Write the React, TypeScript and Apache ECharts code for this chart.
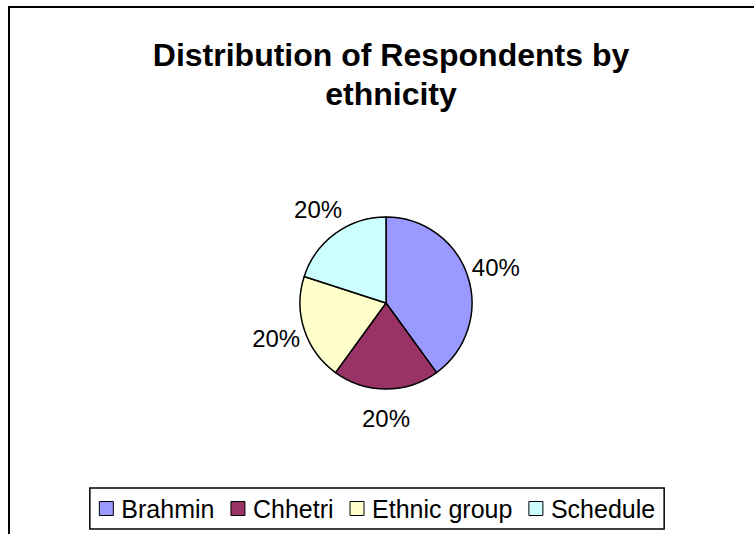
import React, { useEffect, useRef } from "react";
import * as echarts from "echarts";

const categories = ["Brahmin", "Chhetri", "Ethnic group", "Schedule"];
const percentValues = [40, 20, 20, 20];
const sliceColors = ["#9999FF", "#993366", "#FFFFCC", "#CCFFFF"];
const titleLines = ["Distribution of Respondents by", "ethnicity"];

const FONT = "'Liberation Sans', Arial, Helvetica, sans-serif";

export default function App() {
  const ref = useRef<HTMLDivElement>(null);
  useEffect(() => {
    if (!ref.current) return;
    const chart = echarts.init(ref.current, null, { renderer: "svg" });
    const data = categories.map((name, i) => ({
      name,
      value: percentValues[i],
      itemStyle: { color: sliceColors[i] },
    }));
    chart.setOption({
      animation: false,
      backgroundColor: "#ffffff",
      title: {
        text: titleLines.join("\n"),
        left: 386,
        top: 30,
        textAlign: "center",
        textStyle: {
          fontFamily: FONT,
          fontSize: 32,
          fontWeight: "bold",
          color: "#000",
          lineHeight: 39,
        },
      },
      graphic: [
        {
          type: "polyline",
          shape: { points: [[9, 534], [9, 7], [754, 7]] },
          style: { stroke: "#000", lineWidth: 2, fill: "none" },
          silent: true,
        },
      ],
      legend: {
        data: categories,
        left: "center",
        bottom: 5,
        orient: "horizontal",
        icon: "rect",
        itemWidth: 14,
        itemHeight: 14,
        itemGap: 16,
        borderColor: "#000",
        borderWidth: 1.5,
        borderRadius: 0,
        padding: [8, 9, 8, 9],
        itemStyle: { borderColor: "#000", borderWidth: 1 },
        textStyle: { fontFamily: FONT, fontSize: 25, color: "#000", padding: [0, 0, 0, 3] },
      },
      series: [
        {
          type: "pie",
          center: [386, 303],
          radius: 86,
          startAngle: 90,
          clockwise: true,
          data,
          label: { show: false },
          labelLine: { show: false },
          itemStyle: { borderColor: "#000", borderWidth: 1.5 },
          silent: true,
        },
        {
          type: "pie",
          center: [386, 303],
          radius: [96, 129],
          startAngle: 90,
          clockwise: true,
          data: categories.map((name, i) => ({ name, value: percentValues[i] })),
          itemStyle: { color: "transparent", borderWidth: 0 },
          label: {
            show: true,
            position: "inside",
            formatter: (p: any) => `${Math.round(p.percent)}%`,
            fontFamily: FONT,
            fontSize: 24,
            color: "#000",
          },
          labelLine: { show: false },
          silent: true,
        },
      ],
    });
    return () => chart.dispose();
  }, []);
  return (
    <div
      ref={ref}
      style={{ position: "fixed", left: 0, top: 0, width: 754, height: 534, background: "#fff" }}
    />
  );
}
